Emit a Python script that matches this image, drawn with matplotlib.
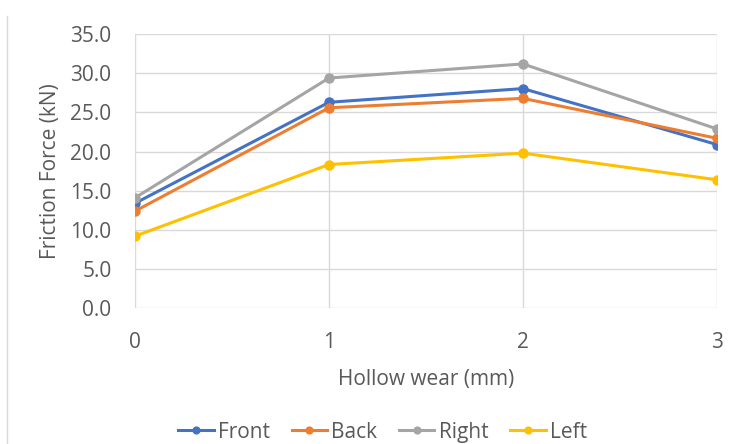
import matplotlib.pyplot as plt
from matplotlib.lines import Line2D

plt.rcParams['font.family'] = ['Open Sans', 'DejaVu Sans']

wear = [0, 1, 2, 3]
front = [13.4, 26.3, 28.05, 20.9]
back = [12.4, 25.6, 26.8, 21.7]
right = [14.1, 29.4, 31.2, 22.9]
left = [9.2, 18.35, 19.8, 16.4]

series = [("Front", front, "#4472C4"),
          ("Back", back, "#ED7D31"),
          ("Right", right, "#A5A5A5"),
          ("Left", left, "#FFC000")]

text_col = "#595959"
grid_col = "#d9d9d9"
fs = 15

fig = plt.figure(figsize=(7.3, 4.44), dpi=100)
ax = fig.add_axes([0.185, 0.306, 0.797, 0.617])

for name, vals, col in series:
    ax.plot(wear, vals, color=col, lw=2.2, marker='o', ms=6.5, label=name)

ax.set_xlim(0, 3)
ax.set_ylim(0, 35)
ax.set_xticks(wear)
ax.set_yticks(range(0, 36, 5))
ax.set_yticklabels([f"{v:.1f}" for v in range(0, 36, 5)])
ax.grid(True, color=grid_col, lw=1)
ax.set_axisbelow(True)
for s in ax.spines.values():
    s.set_visible(False)
ax.tick_params(length=0, labelsize=fs, colors=text_col, pad=17)
ax.tick_params(axis='y', pad=17)

ax.set_xlabel("Hollow wear (mm)", fontsize=fs, color=text_col, labelpad=12)
ax.set_ylabel("Friction Force (kN)", fontsize=fs, color=text_col, labelpad=6.5)

fig.legend(loc='center', bbox_to_anchor=(0.524, 0.027), ncol=4, frameon=False,
           fontsize=fs, labelcolor=text_col, handlelength=1.7,
           handletextpad=0.2, columnspacing=1.05, markerscale=0.75)

# chart area border on the left
fig.add_artist(Line2D([0.0096, 0.0096], [0.0, 0.964], transform=fig.transFigure,
                      color=grid_col, lw=1))

fig.savefig("out.png", dpi=100)
